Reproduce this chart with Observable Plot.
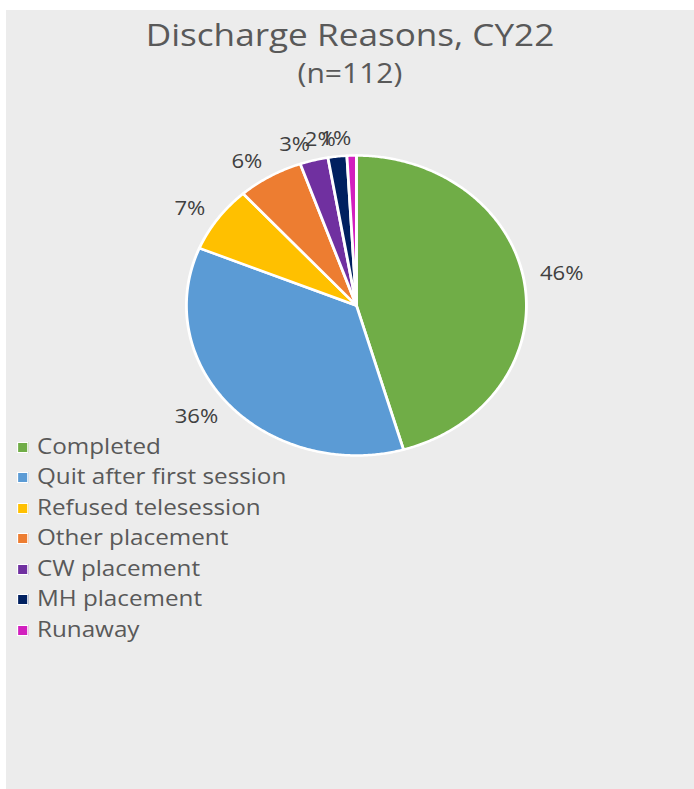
<!DOCTYPE html>
<html>
<head>
<meta charset="utf-8">
<script src="https://cdn.jsdelivr.net/npm/d3@7"></script>
<script src="https://cdn.jsdelivr.net/npm/@observablehq/plot@0.6"></script>
<style>
  html, body { margin: 0; padding: 0; background: #ffffff; }
  body { width: 694px; height: 789px; position: relative; overflow: hidden; font-family: "Open Sans", sans-serif; }
  #panel { position: absolute; left: 6px; top: 10px; width: 688px; height: 779px; background: #ececec; }
  #stage { position: absolute; left: 0; top: 0; width: 612px; height: 789px; transform: scaleX(1.1333); transform-origin: 0 0; }
  .title { position: absolute; left: 0; width: 617.6px; text-align: center; color: #595959; white-space: nowrap; }
  #t1 { top: 19.2px; font-size: 31px; line-height: 31px; }
  #t2 { top: 60.2px; font-size: 26.5px; line-height: 26px; }
  #chart { position: absolute; left: 0; top: 100px; }
  #legend { position: absolute; left: 0; top: 430.6px; }
  .row { position: relative; height: 30.5px; width: 300px; }
  .sw { position: absolute; left: 15.4px; top: 11px; width: 8px; height: 9px; border: 1px solid #ffffff; }
  .lab { position: absolute; left: 32.6px; top: 0; font-size: 21.4px; line-height: 30.5px; color: #595959; white-space: nowrap; }
</style>
</head>
<body>
<div id="panel"></div>
<div id="stage">
  <div class="title" id="t1"></div>
  <div class="title" id="t2"></div>
  <div id="chart"></div>
  <div id="legend"></div>
</div>
<script>
const titleText = "Discharge Reasons, CY22";
const subtitleText = "(n=112)";
const categories = ["Completed", "Quit after first session", "Refused telesession", "Other placement", "CW placement", "MH placement", "Runaway"];
const counts = [51, 40, 8, 7, 3, 2, 1];
const colors = ["#70ad47", "#5b9bd5", "#ffc000", "#ed7d31", "#7030a0", "#002060", "#d21fbe"];

document.getElementById("t1").textContent = titleText;
document.getElementById("t2").textContent = subtitleText;

const rows = categories.map((name, i) => ({name, count: counts[i]}));
const total = d3.sum(counts);
const arcs = d3.pie().sort(null).value(d => d.count)(rows);

// slice outlines
const pts = [];
for (const a of arcs) {
  const name = a.data.name;
  pts.push({name, x: 0, y: 0});
  const steps = Math.max(2, Math.ceil((a.endAngle - a.startAngle) / (Math.PI / 360)));
  for (let j = 0; j <= steps; j++) {
    const t = a.startAngle + (a.endAngle - a.startAngle) * j / steps;
    pts.push({name, x: Math.sin(t), y: Math.cos(t)});
  }
}

// labels
const kx = 1.09, ky = 1.11;
const labels = arcs.map(a => {
  const m = (a.startAngle + a.endAngle) / 2;
  return {
    name: a.data.name,
    text: Math.round(a.data.count / total * 100) + "%",
    x: Math.sin(m) * kx,
    y: Math.cos(m) * ky,
    right: Math.sin(m) > 0
  };
});

const plot = Plot.plot({
  width: 612,
  height: 470,
  margin: 0,
  x: {domain: [-1, 1], range: [164, 464], axis: null},
  y: {domain: [-1, 1], range: [355, 55], axis: null},
  color: {domain: categories, range: colors},
  style: {background: "transparent", fontFamily: "Open Sans, sans-serif", overflow: "visible"},
  marks: [
    Plot.line(pts, {x: "x", y: "y", z: "name", fill: "name", stroke: "#ffffff", strokeWidth: 2.5, strokeLinejoin: "round", curve: "linear-closed"}),
    Plot.text(labels.filter(d => d.right), {x: "x", y: "y", text: "text", textAnchor: "start", dy: -8, fontSize: 19.5, fill: "#404040"}),
    Plot.text(labels.filter(d => !d.right), {x: "x", y: "y", text: "text", textAnchor: "end", fontSize: 19.5, fill: "#404040"})
  ]
});
document.getElementById("chart").appendChild(plot);

const legend = document.getElementById("legend");
categories.forEach((name, i) => {
  const row = document.createElement("div");
  row.className = "row";
  const sw = document.createElement("div");
  sw.className = "sw";
  sw.style.background = colors[i];
  const lab = document.createElement("div");
  lab.className = "lab";
  lab.textContent = name;
  row.appendChild(sw);
  row.appendChild(lab);
  legend.appendChild(row);
});
</script>
</body>
</html>
